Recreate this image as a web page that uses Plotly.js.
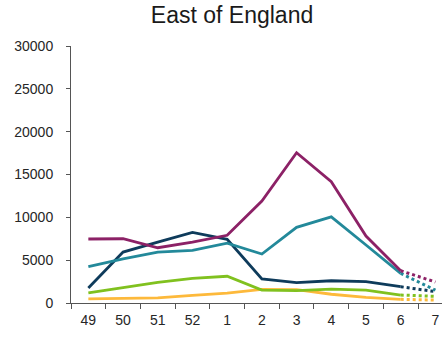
<!DOCTYPE html>
<html>
<head>
<meta charset="utf-8">
<script src="https://cdn.plot.ly/plotly-3.0.1.min.js"></script>
<style>html,body{margin:0;padding:0;background:#fff;overflow:hidden}#chart{width:442px;height:340px}</style>
</head>
<body>
<div id="chart"></div>
<script>
const weeks = ['49','50','51','52','1','2','3','4','5','6'];
const extWeeks = ['6','7'];
const allWeeks = ['49','50','51','52','1','2','3','4','5','6','7'];

const purple = [7470, 7500, 6450, 7100, 7900, 11900, 17540, 14150, 7820, 3770];
const teal   = [4240, 5150, 5950, 6150, 6980, 5720, 8830, 10050, 6770, 3460];
const navy   = [1750, 5950, 7100, 8250, 7430, 2800, 2370, 2600, 2490, 1900];
const green  = [1180, 1800, 2410, 2880, 3120, 1500, 1450, 1620, 1500, 930];
const yellow = [470, 550, 600, 900, 1150, 1600, 1550, 1020, 660, 430];

const purpleExt = [3770, 2450];
const tealExt   = [3460, 1500];
const navyExt   = [1900, 1330];
const greenExt  = [930, 780];
const yellowExt = [430, 340];

const colors = {purple:'#8c2166', teal:'#23899a', navy:'#0e3b5b', green:'#80c11f', yellow:'#fdb93b'};

function solid(y, c){ return {x: weeks, y: y, type:'scatter', mode:'lines', line:{color:c, width:2.8}, hoverinfo:'skip'}; }
function dotted(y, c){ return {x: extWeeks, y: y, type:'scatter', mode:'lines', line:{color:c, width:3, dash:'dot'}, hoverinfo:'skip'}; }

const data = [
  solid(yellow, colors.yellow), solid(green, colors.green), solid(navy, colors.navy),
  solid(teal, colors.teal), solid(purple, colors.purple),
  dotted(yellowExt, colors.yellow), dotted(greenExt, colors.green), dotted(navyExt, colors.navy),
  dotted(tealExt, colors.teal), dotted(purpleExt, colors.purple)
];

const FONT = 'Liberation Sans, Arial, sans-serif';

const layout = {
  width: 442, height: 340,
  margin: {l: 71, r: 0, t: 46, b: 37},
  paper_bgcolor: '#fff', plot_bgcolor: '#fff',
  showlegend: false,
  title: {text: 'East of England', x: 0.525, xanchor: 'center', y: 0.955, yanchor: 'middle',
          font: {family: FONT, size: 23, color: '#1a1a1a'}},
  font: {family: FONT, size: 14, color: '#262626'},
  xaxis: {
    type: 'category', categoryorder: 'array', categoryarray: allWeeks,
    range: [-0.5, 10.19], tickson: 'boundaries', ticks: 'outside', ticklen: 5, tickwidth: 1,
    tickcolor: '#555', showline: true, linecolor: '#555', linewidth: 1,
    showgrid: false, zeroline: false, fixedrange: true, ticklabelstandoff: 4,
    tickfont: {family: FONT, size: 14, color: '#262626'}
  },
  yaxis: {
    range: [0, 30000], dtick: 5000, tick0: 0, tickformat: 'd',
    ticks: 'outside', ticklen: 4, tickwidth: 1, tickcolor: '#555',
    showline: true, linecolor: '#555', linewidth: 1,
    showgrid: false, zeroline: false, fixedrange: true, ticklabelstandoff: 10,
    tickfont: {family: FONT, size: 14, color: '#262626'}
  }
};

Plotly.newPlot('chart', data, layout, {staticPlot: true, displayModeBar: false});
</script>
</body>
</html>
